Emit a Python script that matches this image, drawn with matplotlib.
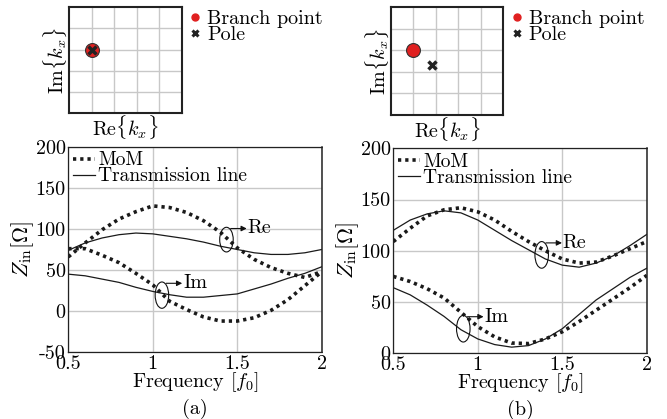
import matplotlib
matplotlib.use('Agg')
import matplotlib.pyplot as plt
from matplotlib.patches import Ellipse
from matplotlib.lines import Line2D

plt.rcParams['font.family'] = 'cmr10'
plt.rcParams['mathtext.fontset'] = 'cm'
plt.rcParams['axes.formatter.use_mathtext'] = True
plt.rcParams['axes.unicode_minus'] = False

# frequency samples [f0]
freq = [0.5, 0.6, 0.7, 0.8, 0.9, 1.0, 1.1, 1.2, 1.3, 1.4, 1.5, 1.6, 1.7, 1.8, 1.9, 2.0]

# case (a): branch point and pole together
mom_re_a = [66, 83, 99, 112, 121, 128, 126, 120, 110, 96, 77, 63, 53, 46, 41, 48]
mom_im_a = [76, 76, 68, 59, 46, 32, 12, 2, -7, -12, -12, -8, 1, 14, 31, 48]
tl_re_a = [74, 83, 89, 93, 95, 94, 91, 88, 84, 79, 75, 71, 69, 69, 71, 75]
tl_im_a = [45, 43, 39, 35, 29, 24, 20, 17, 17, 19, 21, 27, 33, 40, 46, 54]

# case (b): pole moved away from branch point
mom_re_b = [109, 122, 134, 140, 142, 138, 130, 119, 109, 100, 92, 88, 89, 95, 102, 109]
mom_im_b = [75, 70, 63, 54, 40, 26, 16, 10, 9.5, 14, 21, 31, 42, 53, 64, 76]
tl_re_b = [120, 130, 136, 139, 137, 130, 120, 110, 101, 92, 86, 84, 88, 95, 105, 116]
tl_im_b = [64, 57, 47, 36, 23, 14, 8.5, 6, 7.5, 14, 24, 38, 52, 63, 74, 83]

# complex k_x plane markers (grid units 0..5)
branch_a = (1.0, 3.0)
pole_a = (1.0, 3.0)
branch_b = (1.0, 3.0)
pole_b = (1.85, 2.3)

xticks = [0.5, 1, 1.5, 2]
xticklabels = ['0.5', '1', '1.5', '2']
yticks_a = [-50, 0, 50, 100, 150, 200]
yticks_b = [0, 50, 100, 150, 200]

fig = plt.figure(figsize=(6.67, 4.19), dpi=100)

FS = 14.5
LFS = 14
grid_col = '#c8c8c8'


def draw_plane(rect, branch, pole):
    ax = fig.add_axes(rect)
    ax.set_xlim(0, 5)
    ax.set_ylim(0, 5)
    for v in range(1, 5):
        ax.axvline(v, color=grid_col, lw=1.0, zorder=0)
        ax.axhline(v, color=grid_col, lw=1.0, zorder=0)
    ax.set_xticks([])
    ax.set_yticks([])
    for sp in ax.spines.values():
        sp.set_linewidth(1.5)
        sp.set_color('#222222')
    ax.plot(*branch, 'o', ms=10, mfc='#e02020', mec='#333333', mew=0.8, zorder=3)
    ax.plot(*pole, 'x', ms=6, mec='#222222', mew=2.5, zorder=4)
    ax.text(-0.125, 0.5, r'Im$\{k_x\}$', transform=ax.transAxes, rotation=90,
            ha='center', va='center', fontsize=FS)
    ax.text(0.5, -0.13, r'Re$\{k_x\}$', transform=ax.transAxes,
            ha='center', va='center', fontsize=FS)
    handles = [Line2D([], [], ls='none', marker='o', ms=5, mfc='#e02020', mec='#e02020'),
               Line2D([], [], ls='none', marker='x', ms=5, mec='#222222', mew=2.2)]
    ax.legend(handles, ['Branch point', 'Pole'], loc='upper left',
              bbox_to_anchor=(1.065, 0.975), frameon=False, fontsize=FS,
              handlelength=0.6, handletextpad=0.3, borderpad=0,
              labelspacing=-0.1, borderaxespad=0)
    return ax


def draw_zin(rect, mom_re, mom_im, tl_re, tl_im, yticks, ylim, re_mark, im_mark, tag):
    ax = fig.add_axes(rect)
    ax.plot(freq, mom_re, color='#1a1a1a', lw=2.6, ls=(0, (0.9, 1.1)), label='MoM')
    ax.plot(freq, mom_im, color='#1a1a1a', lw=2.6, ls=(0, (0.9, 1.1)))
    ax.plot(freq, tl_re, color='#1a1a1a', lw=0.9, label='Transmission line')
    ax.plot(freq, tl_im, color='#1a1a1a', lw=0.9)
    ax.set_xlim(0.5, 2)
    ax.set_ylim(*ylim)
    ax.set_xticks(xticks)
    ax.set_xticklabels(xticklabels)
    ax.set_yticks(yticks)
    ax.set_yticklabels([str(v) for v in yticks])
    ax.tick_params(length=0, labelsize=FS, pad=2)
    ax.grid(True, color=grid_col, lw=1.0)
    ax.set_axisbelow(True)
    for side in ['left', 'top', 'bottom']:
        ax.spines[side].set_linestyle((0, (2, 1)))
        ax.spines[side].set_linewidth(0.9)
    ax.spines['right'].set_linewidth(1.1)
    for sp in ax.spines.values():
        sp.set_color('#222222')

    # ellipse + arrow annotations
    for (cx, cy, h, label) in [re_mark + ('Re',), im_mark + ('Im',)]:
        ax.add_patch(Ellipse((cx, cy), 0.08, h, fill=False, ec='#111111', lw=0.8, zorder=5))
        y0 = cy + h * 0.45
        x0 = cx + 0.025
        ax.annotate('', xy=(x0 + 0.095, y0), xytext=(x0, y0),
                    arrowprops=dict(arrowstyle='-|>', lw=0.8, color='#111111',
                                    mutation_scale=8, shrinkA=0, shrinkB=0))
        ax.text(x0 + 0.1, y0, label, ha='left', va='center', fontsize=FS)

    ax.legend(loc='upper left', frameon=False, fontsize=LFS, handlelength=1.1,
              handletextpad=0.2, borderpad=0.0, borderaxespad=0.25, labelspacing=-0.1)
    ax.set_xlabel(r'Frequency [$f_0$]', fontsize=FS)
    ax.xaxis.label.set_verticalalignment('center')
    ax.xaxis.set_label_coords(0.5, -0.145)
    ax.set_ylabel(r'$Z_{\rm in}$[$\Omega$]', fontsize=16)
    ax.yaxis.label.set_verticalalignment('center')
    ax.yaxis.set_label_coords(-0.182, 0.5)
    ax.text(0.5, -0.275, tag, transform=ax.transAxes, ha='center', va='center', fontsize=FS)
    return ax


draw_plane([0.1034, 0.7296, 0.169, 0.253], branch_a, pole_a)
draw_plane([0.5858, 0.7255, 0.1688, 0.257], branch_b, pole_b)

draw_zin([0.1024, 0.1592, 0.380, 0.4907], mom_re_a, mom_im_a, tl_re_a, tl_im_a,
         yticks_a, (-50, 200), (1.436, 87, 30), (1.054, 19.5, 32), '(a)')
draw_zin([0.5897, 0.1568, 0.380, 0.4893], mom_re_b, mom_im_b, tl_re_b, tl_im_b,
         yticks_b, (0, 200), (1.378, 96, 26), (0.914, 24, 26), '(b)')

fig.savefig('out.png', dpi=100)
